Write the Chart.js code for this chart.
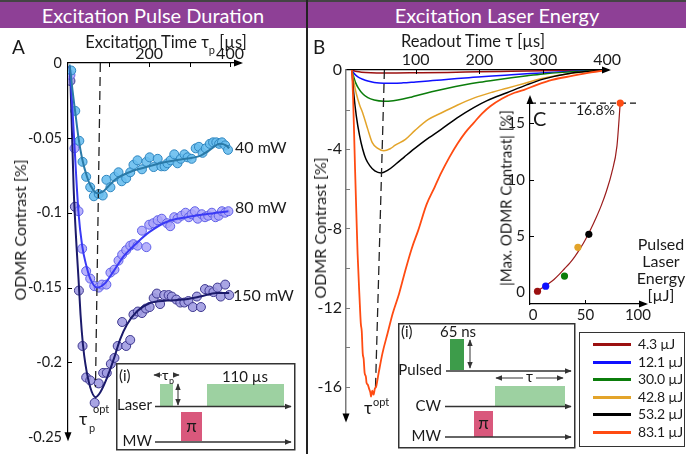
<!DOCTYPE html>
<html><head><meta charset="utf-8">
<script src="https://cdn.jsdelivr.net/npm/chart.js@4.4.1/dist/chart.umd.min.js"></script>
<style>
body{margin:0;background:#fff;font-family:Lato,"Open Sans",sans-serif;color:#1a1a1a;}
#wrap{position:relative;width:686px;height:458px;overflow:hidden;background:#fff;}
.abs{position:absolute;white-space:nowrap;line-height:1;}
.c{transform:translate(-50%,-50%);}
canvas{position:absolute;}
.hdr{position:absolute;top:2px;height:26px;background:#8e4096;color:#fff;font-size:20px;display:flex;align-items:center;justify-content:center;}
.rot{position:absolute;transform:translate(-50%,-50%) rotate(-90deg);white-space:nowrap;font-size:16px;line-height:1;}
svg text{font-family:Lato,"Open Sans",sans-serif;fill:#1a1a1a;}
</style></head><body><div id="wrap">
<div class="abs" style="left:0;top:0;width:686px;height:2px;background:#444"></div>
<div class="hdr" style="left:0;width:306px">Excitation Pulse Duration</div>
<div class="hdr" style="left:308px;width:378px">Excitation Laser Energy</div>
<div class="abs" style="left:306px;top:0;width:2px;height:454px;background:#222"></div>

<canvas id="cA" width="250" height="452" style="left:0;top:0"></canvas>
<canvas id="cB" width="312" height="432" style="left:310px;top:0"></canvas>
<canvas id="cC" width="160" height="240" style="left:495px;top:85px"></canvas>

<div class="abs" style="left:12px;top:37px;font-size:19px">A</div>
<div class="abs" style="left:313px;top:37px;font-size:19px">B</div>
<div class="abs c" style="left:166px;top:42px;font-size:16.5px">Excitation Time τ<span style="font-size:11px;position:relative;top:6px">p</span> [µs]</div>
<div class="abs c" style="left:473px;top:41px;font-size:16.5px">Readout Time τ [µs]</div>
<div class="rot" style="left:20px;top:230px">ODMR Contrast [%]</div>
<div class="rot" style="left:320px;top:228px">ODMR Contrast [%]</div>
<div class="rot" style="left:506px;top:198px;font-size:15px">|Max. ODMR Contrast| [%]</div>
<div class="abs" style="left:235px;top:139px;font-size:16px">40 mW</div>
<div class="abs" style="left:235px;top:199px;font-size:16px">80 mW</div>
<div class="abs" style="left:233px;top:287px;font-size:16px">150 mW</div>
<div class="abs" style="left:79px;top:409px;font-size:18px">τ</div>
<div class="abs" style="left:89px;top:422px;font-size:11px">p</div>
<div class="abs" style="left:93px;top:403px;font-size:11px">opt</div>
<div class="abs" style="left:364px;top:398px;font-size:18px">τ</div>
<div class="abs" style="left:373px;top:396px;font-size:11px">opt</div>
<div class="abs" style="left:576px;top:103px;font-size:14px">16.8%</div>
<div class="abs" style="left:533px;top:108px;font-size:20px">C</div>
<div class="abs" style="left:631px;top:235px;width:60px;text-align:center;font-size:16px;line-height:17px">Pulsed<br>Laser<br>Energy<br>[µJ]</div>

<svg style="position:absolute;left:116px;top:363px" width="180" height="88">
<defs><marker id="ah" viewBox="0 0 10 10" refX="9" refY="5" markerUnits="userSpaceOnUse" markerWidth="7" markerHeight="7" orient="auto-start-reverse"><path d="M0,1 L10,5 L0,9 z" fill="#333"/></marker></defs>
<rect x="0.75" y="0.75" width="178" height="86" fill="#fff" stroke="#333" stroke-width="1.5"/>
<text x="3" y="18" font-size="15">(i)</text>
<line x1="46" y1="12" x2="38" y2="12" stroke="#333" stroke-width="1" marker-end="url(#ah)"/>
<text x="46" y="17" font-size="14">τ</text><text x="53" y="21" font-size="9">p</text>
<line x1="57" y1="12" x2="63" y2="12" stroke="#333" stroke-width="1" marker-end="url(#ah)"/>
<rect x="44" y="21" width="13" height="22" fill="#9dd1a1"/>
<line x1="62" y1="31" x2="62" y2="21" stroke="#333" stroke-width="1" marker-end="url(#ah)"/>
<line x1="62" y1="31" x2="62" y2="42" stroke="#333" stroke-width="1" marker-end="url(#ah)"/>
<rect x="91" y="21" width="77" height="22" fill="#9dd1a1"/>
<text x="129" y="19" font-size="15" text-anchor="middle">110 µs</text>
<text x="36" y="47" font-size="15" text-anchor="end">Laser</text>
<line x1="39" y1="43.5" x2="175" y2="43.5" stroke="#333" stroke-width="1.5" marker-end="url(#ah)"/>
<rect x="65" y="49" width="21" height="29" fill="#d9587c"/>
<text x="75.5" y="69" font-size="17" text-anchor="middle">π</text>
<text x="36" y="83" font-size="15" text-anchor="end">MW</text>
<line x1="39" y1="79" x2="175" y2="79" stroke="#333" stroke-width="1.5" marker-end="url(#ah)"/>
</svg>

<svg style="position:absolute;left:398px;top:323px" width="178" height="126">
<defs><marker id="ah2" viewBox="0 0 10 10" refX="9" refY="5" markerUnits="userSpaceOnUse" markerWidth="7" markerHeight="7" orient="auto-start-reverse"><path d="M0,1 L10,5 L0,9 z" fill="#333"/></marker></defs>
<rect x="0.75" y="0.75" width="176" height="124" fill="#fff" stroke="#333" stroke-width="1.5"/>
<text x="3" y="14" font-size="15">(i)</text>
<text x="60" y="14" font-size="15" text-anchor="middle">65 ns</text>
<rect x="52" y="16" width="14" height="31" fill="#3d9c4a"/>
<line x1="72" y1="31" x2="72" y2="17" stroke="#333" stroke-width="1" marker-end="url(#ah2)"/>
<line x1="72" y1="31" x2="72" y2="45" stroke="#333" stroke-width="1" marker-end="url(#ah2)"/>
<text x="44" y="52" font-size="15" text-anchor="end">Pulsed</text>
<line x1="48" y1="48" x2="173" y2="48" stroke="#333" stroke-width="1.5" marker-end="url(#ah2)"/>
<line x1="125" y1="55" x2="98" y2="55" stroke="#333" stroke-width="1" marker-end="url(#ah2)"/>
<line x1="138" y1="55" x2="165" y2="55" stroke="#333" stroke-width="1" marker-end="url(#ah2)"/>
<text x="131.5" y="59" font-size="15" text-anchor="middle">τ</text>
<rect x="97" y="63" width="70" height="20" fill="#9dd1a1"/>
<text x="43" y="88" font-size="15" text-anchor="end">CW</text>
<line x1="47" y1="83.5" x2="173" y2="83.5" stroke="#333" stroke-width="1.5" marker-end="url(#ah2)"/>
<rect x="76" y="88" width="19" height="26" fill="#d9587c"/>
<text x="85.5" y="106" font-size="17" text-anchor="middle">π</text>
<text x="43" y="118" font-size="15" text-anchor="end">MW</text>
<line x1="47" y1="114" x2="173" y2="114" stroke="#333" stroke-width="1.5" marker-end="url(#ah2)"/>
</svg>

<div id="legB" style="position:absolute;left:579px;top:332px;width:104px;height:113px;border:1.5px solid #333;background:#fff"></div>
</div>
<script>
Chart.defaults.font.family = 'Lato, "Open Sans", sans-serif';
Chart.defaults.color = '#1a1a1a';

// ===== Panel A: excitation pulse duration (x: µs, y: %) =====
const tA40 = [7,17,27,35,44,54,63,75,85,94,104,114,124,132,143,153,161,171,182,193,201,211,221,230,238,245,253,262,270,278,287,295,305,315,323,332,340,350,358,366,373,380,388,395];
const vA40 = [-0.005,-0.032,-0.052,-0.066,-0.076,-0.083,-0.089,-0.0875,-0.0885,-0.078,-0.083,-0.076,-0.073,-0.079,-0.077,-0.073,-0.068,-0.065,-0.071,-0.066,-0.063,-0.0695,-0.064,-0.069,-0.069,-0.067,-0.065,-0.061,-0.067,-0.064,-0.061,-0.063,-0.064,-0.057,-0.056,-0.060,-0.057,-0.054,-0.053,-0.053,-0.054,-0.053,-0.055,-0.058];
const tA80 = [5,15,25,34,44,54,64,75,83,94,104,114,124,133,143,153,161,171,182,193,200,210,221,231,244,252,262,270,280,290,298,305,313,320,330,338,346,355,364,372,380,388,396];
const vA80 = [-0.008,-0.057,-0.099,-0.124,-0.139,-0.144,-0.149,-0.150,-0.148,-0.148,-0.140,-0.138,-0.132,-0.128,-0.125,-0.122,-0.121,-0.122,-0.112,-0.123,-0.108,-0.107,-0.105,-0.104,-0.107,-0.109,-0.103,-0.104,-0.102,-0.100,-0.103,-0.101,-0.099,-0.104,-0.101,-0.103,-0.102,-0.100,-0.103,-0.102,-0.099,-0.100,-0.099];
const tA150 = [5,16,26,35,44,54,65,75,86,95,105,114,122,133,143,153,161,172,182,192,201,211,219,227,237,248,256,267,277,287,297,308,318,328,338,349,359,369,377,388,398];
const vA150 = [-0.012,-0.096,-0.152,-0.189,-0.210,-0.212,-0.227,-0.214,-0.207,-0.207,-0.201,-0.197,-0.189,-0.173,-0.189,-0.185,-0.168,-0.166,-0.167,-0.164,-0.163,-0.157,-0.154,-0.161,-0.155,-0.155,-0.156,-0.158,-0.160,-0.160,-0.159,-0.163,-0.156,-0.163,-0.151,-0.152,-0.153,-0.150,-0.156,-0.148,-0.155];
const fA40t = [3,10,17,25,34,46,55,71,85,100,120,160,200,244,290,326,350,375,390,398];
const fA40v = [-0.001,-0.018,-0.033,-0.050,-0.064,-0.076,-0.082,-0.087,-0.086,-0.082,-0.077,-0.072,-0.069,-0.066,-0.064,-0.062,-0.058,-0.054,-0.055,-0.057];
const fA80t = [3,6,15,25,34,44,54,71,91,112,137,170,200,244,293,340,396];
const fA80v = [-0.002,-0.012,-0.055,-0.100,-0.122,-0.135,-0.144,-0.150,-0.147,-0.139,-0.129,-0.120,-0.113,-0.106,-0.103,-0.101,-0.099];
const fA150t = [3,5,13,20,25,30,36,42,54,67,79,96,112,128,145,170,202,244,285,326,367,398];
const fA150v = [-0.002,-0.012,-0.084,-0.122,-0.144,-0.168,-0.188,-0.201,-0.2166,-0.2232,-0.2199,-0.210,-0.198,-0.1846,-0.1746,-0.1658,-0.1603,-0.1587,-0.158,-0.156,-0.1536,-0.1536];
const dashAt = [79,67];
const dashAv = [0,-0.2166];
const xTicksA = [100,200,300,400];
const xLabelsA = [200,400];
const yTicksA = [0,-0.05,-0.1,-0.15,-0.2,-0.25];

// ===== Panel B: readout time curves (x: µs, y: %) =====
const energyLabels = ['4.3 µJ','12.1 µJ','30.0 µJ','42.8 µJ','53.2 µJ','83.1 µJ'];
const energyColors = ['#9b1010','#1010ff','#0b7d0b','#e3a42a','#000000','#ff4b12'];
const tB1 = [0,3,8,15,30,50,70,100,150,200,250,300,350,400];
const vB1 = [0,-0.04,-0.08,-0.11,-0.14,-0.15,-0.15,-0.14,-0.12,-0.09,-0.065,-0.04,-0.015,0];
const tB2 = [0,3,6,10,17,25,35,50,65,80,100,120,140,165,190,220,250,280,310,345,375,400];
const vB2 = [0,-0.15,-0.26,-0.36,-0.47,-0.56,-0.63,-0.67,-0.67,-0.65,-0.6,-0.55,-0.5,-0.43,-0.37,-0.3,-0.24,-0.18,-0.12,-0.06,-0.02,0];
const tB3 = [0,3,6,10,17,25,35,50,65,80,94,110,125,150,175,200,225,250,275,300,330,360,400];
const vB3 = [0,-0.35,-0.65,-0.9,-1.2,-1.4,-1.52,-1.58,-1.55,-1.47,-1.36,-1.22,-1.1,-0.92,-0.76,-0.62,-0.5,-0.39,-0.29,-0.2,-0.12,-0.06,0];
const tB4 = [0,3,7,12,17,25,32,40,50,60,68,84,99,120,140,165,191,220,243,270,300,345,375,400];
const vB4 = [0,-0.6,-1.2,-1.75,-2.17,-3.0,-3.67,-3.95,-4.08,-3.98,-3.8,-3.5,-3.05,-2.5,-2.17,-1.78,-1.42,-1.12,-0.92,-0.68,-0.42,-0.17,-0.06,0];
const tB5 = [0,3,7,12,17,22,28,36,46,57,69,82,95,115,140,165,191,212,243,274,300,345,375,400];
const vB5 = [0,-1.2,-2.33,-3.3,-4.0,-4.5,-4.83,-5.1,-5.2,-5.05,-4.75,-4.4,-4.05,-3.55,-3.0,-2.42,-1.9,-1.55,-1.15,-0.75,-0.46,-0.15,-0.05,0];
const tB6 = [0,1,2,3.5,5,7,9,12,14,15.5,17,18.5,20,22,23,25,27,29,30,32,34,36,38,42,48,56,64,74,84,94,104,117,130,140,153,166,178,191,204,217,235,255,270,290,314,345,375,400];
const vB6 = [0,-0.6,-1.5,-3.2,-5,-7.2,-9.3,-11.5,-12.8,-13.2,-14.3,-14.6,-15.3,-15.5,-15.8,-15.9,-16.1,-16.3,-16.5,-16.2,-16.4,-16.1,-16.0,-15.3,-14.3,-13.3,-12.3,-11.3,-10.1,-9.0,-8.1,-6.8,-5.9,-5.2,-4.4,-3.7,-3.15,-2.67,-2.2,-1.83,-1.45,-1.15,-1.0,-0.75,-0.5,-0.3,-0.12,0];
const dashBt = [51,37];
const dashBv = [0,-16.1];
const xTicksB = [100,200,300,400];
const yTicksB = [0,-4,-8,-12,-16];
const yMinorB = [-2,-4,-6,-8,-10,-12,-14,-16];

// ===== Panel C: max contrast vs pulsed energy =====
const energies = [4.3,12.1,30.0,42.8,53.2,83.1];
const maxContrast = [0.1,0.55,1.45,4.0,5.15,16.8];
const fitCt = [2,5,10,15,20,25,30,35,40,45,50,55,60,65,70,75,80,83.1];
const fitCv = [0.05,0.2,0.45,0.78,1.15,1.6,2.1,2.6,3.2,3.9,4.7,5.6,6.6,7.7,9.0,10.6,13.0,16.8];
const refCt = [-2.86,99];
const refCv = [16.8,16.8];
const xTicksC = [0,50,100];
const yTicksC = [0,5,10,15];

const pts = (xs, ys) => xs.map((x,i)=>({x, y: ys[i]}));

const decor = {
  id:'decor',
  afterDraw(chart, args, o){
    const ctx=chart.ctx, ca=chart.chartArea, xs=chart.scales.x, ys=chart.scales.y;
    ctx.save();
    ctx.lineWidth = 1;
    const L = o.tickLen || 4;
    const axY = o.xPos === 'top' ? ca.top : ca.bottom;
    const d = o.xPos === 'top' ? 1 : -1;
    ctx.strokeStyle = o.xColor || '#000';
    (o.xTicks||[]).forEach(v=>{ const px=Math.round(xs.getPixelForValue(v))+0.5; ctx.beginPath(); ctx.moveTo(px,axY); ctx.lineTo(px,axY+d*L); ctx.stroke(); });
    ctx.strokeStyle = o.yColor || '#000';
    (o.yTicks||[]).forEach(v=>{ const py=Math.round(ys.getPixelForValue(v))+0.5; ctx.beginPath(); ctx.moveTo(ca.left,py); ctx.lineTo(ca.left+L,py); ctx.stroke(); });
    const tri=(x1,y1,x2,y2,x3,y3,c)=>{ctx.fillStyle=c;ctx.beginPath();ctx.moveTo(x1,y1);ctx.lineTo(x2,y2);ctx.lineTo(x3,y3);ctx.closePath();ctx.fill();};
    const A = 9, W = 3.5;
    tri(ca.right+3, axY, ca.right+3-A, axY-W, ca.right+3-A, axY+W, '#000');
    if (o.yArrow==='bottom') tri(ca.left, ca.bottom+4, ca.left-W, ca.bottom+4-A, ca.left+W, ca.bottom+4-A, '#000');
    else tri(ca.left, ca.top-4, ca.left-W, ca.top-4+A, ca.left+W, ca.top-4+A, '#000');
    ctx.restore();
  }
};

function axisX(o){ return {
  type:'linear', position:o.pos, min:o.min, max:o.max,
  afterFit: s=>{ s.height=o.h; },
  afterBuildTicks: s=>{ s.ticks = o.ticks.map(v=>({value:v})); },
  ticks:{ autoSkip:false, maxRotation:0, minRotation:0, padding:o.pad, font:{size:o.fs}, color:'#1a1a1a',
    callback: v => o.labels.includes(v) ? String(v) : '' },
  grid:{ display:true, drawOnChartArea:false, drawTicks:false },
  border:{ display:true, color:o.color||'#000', width:o.bw||1.2 }
};}
function axisY(o){ return {
  type:'linear', position:'left', min:o.min, max:o.max,
  afterFit: s=>{ s.width=o.w; },
  afterBuildTicks: s=>{ s.ticks = o.ticks.map(v=>({value:v})); },
  ticks:{ autoSkip:false, padding:o.pad, font:{size:o.fs}, color:'#1a1a1a', callback: v => String(v) },
  grid:{ display:true, drawOnChartArea:false, drawTicks:false },
  border:{ display:true, color:o.color||'#000', width:o.bw||1.2 }
};}
const baseOpts = (pad, scales, dec) => ({
  animation:false, responsive:false, maintainAspectRatio:false,
  layout:{padding:pad},
  plugins:{legend:{display:false}, tooltip:{enabled:false}, decor:dec},
  scales
});
const fitDs = (t,v,c,w) => ({data:pts(t,v), showLine:true, borderColor:c, borderWidth:w, pointRadius:0, cubicInterpolationMode:'monotone', order:0});
const ptDs = (t,v,fill,edge) => ({data:pts(t,v), showLine:false, pointRadius:4.5, pointBackgroundColor:fill, pointBorderColor:edge, pointBorderWidth:1, order:2});
const dashDs = (t,v) => ({data:pts(t,v), showLine:true, borderColor:'#222', borderWidth:1.3, borderDash:[9,5], pointRadius:0, order:1});

// ---- Chart A ----
new Chart(document.getElementById('cA'), {
  type:'scatter',
  data:{datasets:[
    fitDs(fA40t,fA40v,'#2a7aa8',2),
    fitDs(fA80t,fA80v,'#3a3af5',2),
    fitDs(fA150t,fA150v,'#1b1a6b',2),
    dashDs(dashAt,dashAv),
    ptDs(tA40,vA40,'rgba(105,190,238,0.9)','#2f86c0'),
    ptDs(tA80,vA80,'rgba(170,165,250,0.85)','#6060e8'),
    ptDs(tA150,vA150,'rgba(160,155,225,0.9)','#3d378f')
  ]},
  plugins:[decor],
  options: baseOpts({left:0,top:0,right:10,bottom:10},
    { x: axisX({pos:'top', min:-1, max:424.7, h:63, ticks:xTicksA, labels:xLabelsA, pad:0, fs:16}),
      y: axisY({min:-0.25, max:0, w:68, ticks:yTicksA, pad:6, fs:14.5}) },
    {xPos:'top', xTicks:xTicksA, yTicks:yTicksA.slice(1,5), yArrow:'bottom', tickLen:4})
});

// ---- Chart B ----
const curvesB = [[tB1,vB1],[tB2,vB2],[tB3,vB3],[tB4,vB4],[tB5,vB5],[tB6,vB6]];
new Chart(document.getElementById('cB'), {
  type:'scatter',
  data:{datasets:[
    ...curvesB.map((c,i)=>({...fitDs(c[0],c[1],energyColors[i],i===5?1.8:1.5), label:energyLabels[i], order: 6-i})),
    dashDs(dashBt,dashBv)
  ]},
  plugins:[decor],
  options: baseOpts({left:0,top:0,right:9,bottom:10},
    { x: axisX({pos:'top', min:-9.2, max:401.5, h:70, ticks:xTicksB, labels:xTicksB, pad:1, fs:16}),
      y: axisY({min:-17.6, max:0, w:36, ticks:yTicksB, pad:4, fs:16, color:'#7a7a7a', bw:1.5}) },
    {xPos:'top', xTicks:[100,200,300], yTicks:yMinorB, yColor:'#7a7a7a', yArrow:'bottom', tickLen:4})
});

// ---- Chart C ----
new Chart(document.getElementById('cC'), {
  type:'scatter',
  data:{datasets:[
    {data:pts(energies,maxContrast), showLine:false, pointRadius:3.6, pointBackgroundColor:energyColors, pointBorderColor:energyColors, pointBorderWidth:0, order:0},
    fitDs(fitCt,fitCv,'#9b1c1c',1.2),
    {...dashDs(refCt,refCv), borderDash:[6,4], borderWidth:1.2, borderColor:'#111', order:2}
  ]},
  plugins:[decor],
  options: baseOpts({left:0,top:8,right:10,bottom:0},
    { x: axisX({pos:'bottom', min:-2.86, max:106.7, h:21, ticks:xTicksC, labels:xTicksC, pad:2, fs:15}),
      y: axisY({min:-1.03, max:17.16, w:35, ticks:yTicksC, pad:5, fs:15}) },
    {xPos:'bottom', xTicks:[50], yTicks:yTicksC.slice(1), yArrow:'top', tickLen:4})
});

// ---- Legend B ----
const leg = document.getElementById('legB');
energyLabels.forEach((lab,i)=>{
  const r = document.createElement('div');
  r.style.cssText = 'position:absolute;left:0;top:'+(3+i*17.6)+'px;height:16px;width:104px;';
  r.innerHTML = '<div style="position:absolute;left:13px;top:7px;width:38px;height:3px;background:'+energyColors[i]+'"></div>'+
    '<div style="position:absolute;left:58px;top:0;font-size:14px;letter-spacing:-0.2px;line-height:16px;white-space:nowrap">'+lab+'</div>';
  leg.appendChild(r);
});
</script>
</body></html>
